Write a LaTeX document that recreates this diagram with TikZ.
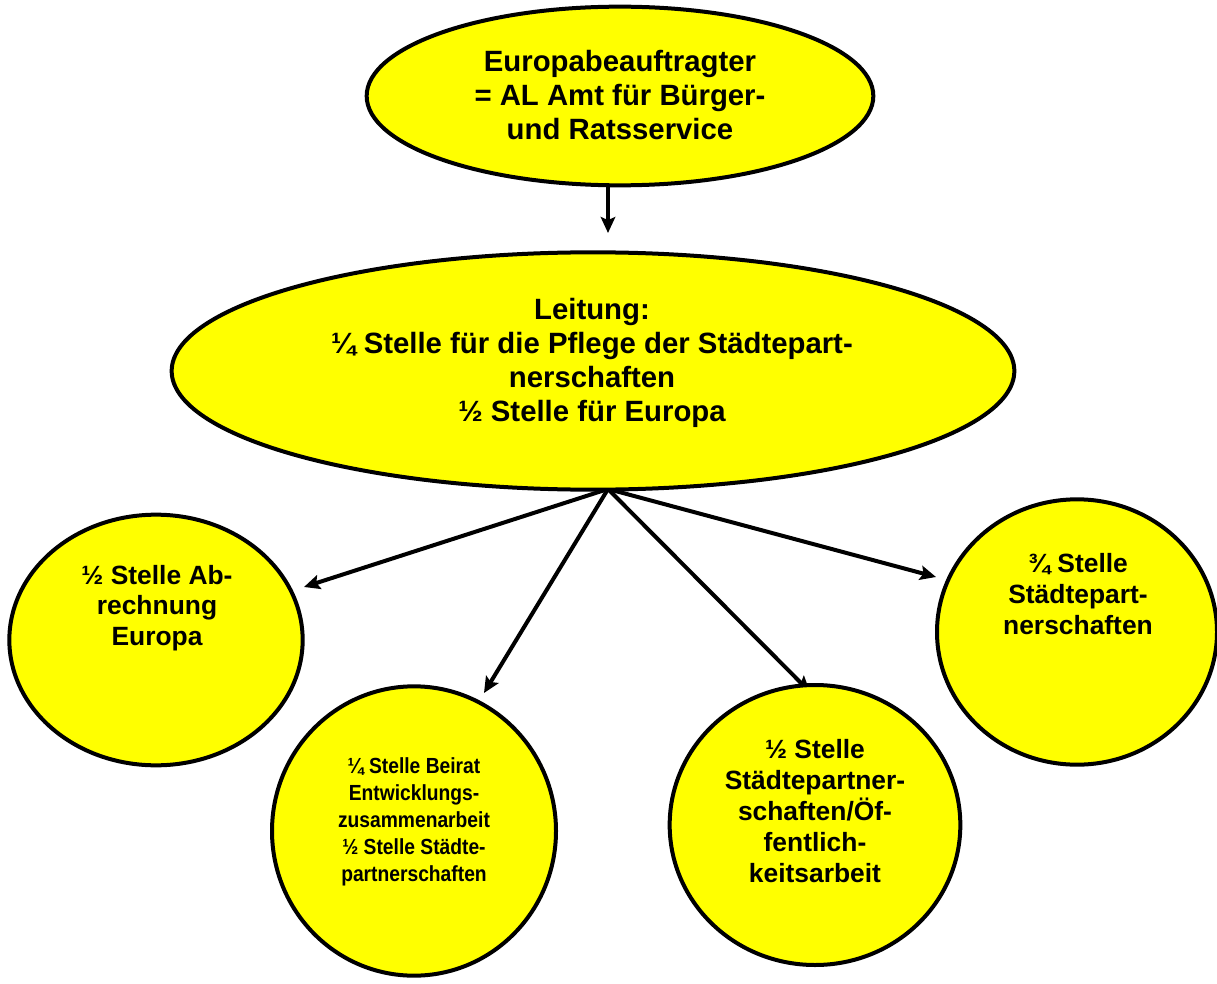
\documentclass[tikz,border=0pt]{standalone}
\usepackage{fontspec}
\setmainfont{Liberation Sans}
\newfontfamily\schmal[FakeStretch=0.88]{Liberation Sans}
\usetikzlibrary{arrows.meta,shapes.geometric,backgrounds}
\definecolor{ovalgelb}{HTML}{FFFF00}

\begin{document}
\begin{tikzpicture}[
    x=0.75pt, y=-0.75pt,
    oval/.style={ellipse, draw=black, fill=ovalgelb, line width=3pt, inner sep=0pt},
    txtgross/.style={align=center, font=\bfseries\fontsize{22}{25.4}\selectfont},
    txtmittel/.style={align=center, font=\bfseries\fontsize{19.8}{23.1}\selectfont},
    txtklein/.style={align=center, font=\schmal\bfseries\fontsize{16.4}{20.2}\selectfont},
    arrow/.style={-{Stealth[length=4.2mm, width=3.8mm, inset=0.8mm]}, line width=3pt, draw=black}
  ]
    \useasboundingbox (0,0) rectangle (1217,984);
    % Ovale
    \node[oval, minimum width=380pt, minimum height=134pt] (beauf) at (620,96) {};
    \node[oval, minimum width=632pt, minimum height=178pt] (leit) at (593,371) {};
    \node[oval, minimum width=220pt, minimum height=188pt] (abr) at (156,640) {};
    \node[oval, minimum width=213pt, minimum height=217pt] (beirat) at (414,831) {};
    \node[oval, minimum width=218pt, minimum height=210pt] (oeff) at (815,825) {};
    \node[oval, minimum width=210pt, minimum height=199pt] (part) at (1077,632) {};
    % Texte
    \node[txtgross] (beauftxt) at (620,95) {Europabeauftragter\\= AL Amt für Bürger-\\und Ratsservice};
    \node[txtgross] (leittxt) at (592,363) {Leitung:\\¼ Stelle für die Pflege der Städtepart-\\nerschaften\\½ Stelle für Europa};
    \node[txtmittel] (abrtxt) at (157,608) {½ Stelle Ab-\\rechnung\\Europa};
    \node[txtklein] (beirattxt) at (414,822) {¼ Stelle Beirat\\Entwicklungs-\\zusammenarbeit\\½ Stelle Städte-\\partnerschaften};
    \node[txtmittel] (oefftxt) at (815,811) {½ Stelle\\Städtepartner-\\schaften/Öf-\\fentlich-\\keitsarbeit};
    \node[txtmittel] (parttxt) at (1078,594) {¾ Stelle\\Städtepart-\\nerschaften};
    % Pfeile
    \coordinate (ziel0) at (608,233);
    \coordinate (knoten) at (608,489);
    \coordinate (ziel1) at (304,587);
    \coordinate (ziel2) at (484,693);
    \coordinate (ziel3) at (810,692);
    \coordinate (ziel4) at (936,577);
    \begin{scope}[on background layer]
      \fill[white] (0,0) rectangle (1217,984);
      \draw[arrow] (beauf.south -| ziel0) -- (ziel0);
      \draw[arrow] (knoten) -- (ziel1);
      \draw[arrow] (knoten) -- (ziel2);
      \draw[arrow] (knoten) -- (ziel3);
      \draw[arrow] (knoten) -- (ziel4);
    \end{scope}
\end{tikzpicture}
\end{document}
